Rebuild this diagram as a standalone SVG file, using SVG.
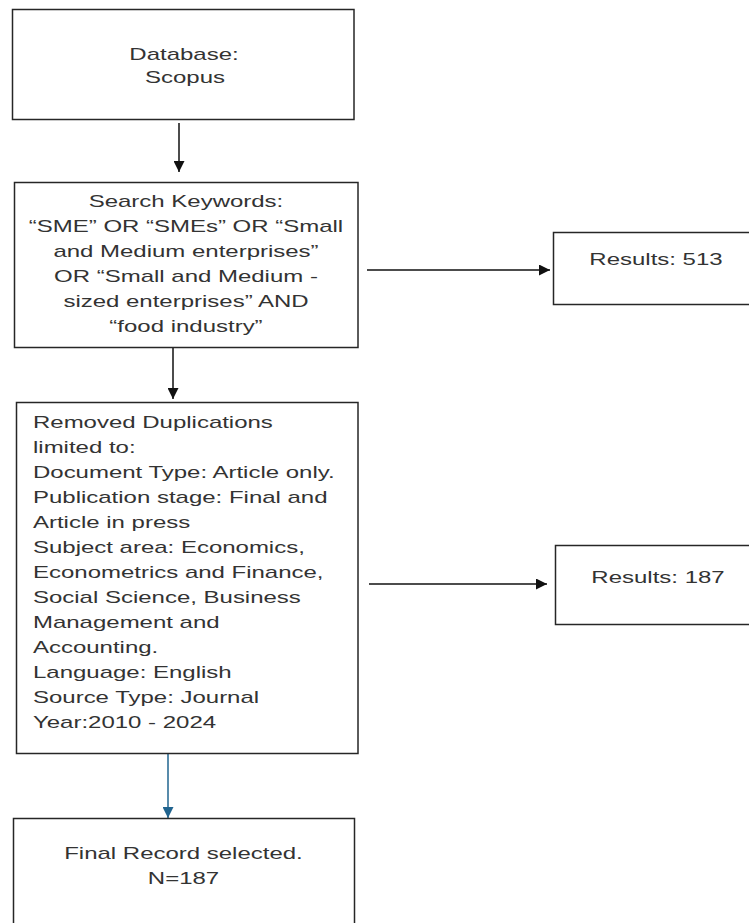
<svg xmlns="http://www.w3.org/2000/svg" width="749" height="923" viewBox="0 0 749 923">
<style>
.box { fill: #ffffff; stroke: #262626; stroke-width: 1.5; }
.t { font-family: "Liberation Sans", Arial, sans-serif; font-size: 16px; fill: #333333; }
.c { text-anchor: middle; }
.conn { stroke: #111111; stroke-width: 1.5; fill: none; }
.blue { stroke: #21648f; }
</style>
<defs>
<marker id="ah" markerUnits="userSpaceOnUse" markerWidth="11" markerHeight="11" viewBox="0 0 10 10" refX="10" refY="5" orient="auto">
<path d="M0,0 L10,5 L0,10 Z" fill="#111111"/>
</marker>
<marker id="ahb" markerUnits="userSpaceOnUse" markerWidth="11" markerHeight="11" viewBox="0 0 10 10" refX="10" refY="5" orient="auto">
<path d="M0,0 L10,5 L0,10 Z" fill="#21648f"/>
</marker>
</defs>
<rect width="749" height="923" fill="#ffffff"/>

<g id="connectors">
<line class="conn" x1="179" y1="123" x2="179" y2="172" marker-end="url(#ah)"/>
<line class="conn" x1="173" y1="348" x2="173" y2="399" marker-end="url(#ah)"/>
<line class="conn" x1="367" y1="270" x2="550" y2="270" marker-end="url(#ah)"/>
<line class="conn" x1="369" y1="584" x2="547" y2="584" marker-end="url(#ah)"/>
<line class="conn blue" x1="168" y1="754" x2="168" y2="818" marker-end="url(#ahb)"/>
</g>

<g id="node-database">
<rect class="box" x="12.5" y="9.5" width="341.5" height="110"/>
<text class="t c" transform="scale(1.5 1)" x="122.67" y="60">Database:</text>
<text class="t c" transform="scale(1.5 1)" x="123.33" y="83">Scopus</text>
</g>

<g id="node-search">
<rect class="box" x="14.5" y="182.5" width="343.5" height="165"/>
<text class="t c" transform="scale(1.5 1)" x="124" y="207">Search Keywords:</text>
<text class="t c" transform="scale(1.5 1)" x="124" y="232">“SME” OR “SMEs” OR “Small</text>
<text class="t c" transform="scale(1.5 1)" x="124" y="257">and Medium enterprises”</text>
<text class="t c" transform="scale(1.5 1)" x="124" y="282">OR “Small and Medium -</text>
<text class="t c" transform="scale(1.5 1)" x="124" y="307">sized enterprises” AND</text>
<text class="t c" transform="scale(1.5 1)" x="124" y="332">“food industry”</text>
</g>

<g id="node-results-513">
<rect class="box" x="553.5" y="232.5" width="210" height="72"/>
<text class="t c" transform="scale(1.5 1)" x="437.33" y="265">Results: 513</text>
</g>

<g id="node-filters">
<rect class="box" x="16.5" y="402.5" width="341.5" height="351"/>
<text class="t" transform="scale(1.5 1)" x="22" y="428">Removed Duplications</text>
<text class="t" transform="scale(1.5 1)" x="22" y="453">limited to:</text>
<text class="t" transform="scale(1.5 1)" x="22" y="478">Document Type: Article only.</text>
<text class="t" transform="scale(1.5 1)" x="22" y="503">Publication stage: Final and</text>
<text class="t" transform="scale(1.5 1)" x="22" y="528">Article in press</text>
<text class="t" transform="scale(1.5 1)" x="22" y="553">Subject area: Economics,</text>
<text class="t" transform="scale(1.5 1)" x="22" y="578">Econometrics and Finance,</text>
<text class="t" transform="scale(1.5 1)" x="22" y="603">Social Science, Business</text>
<text class="t" transform="scale(1.5 1)" x="22" y="628">Management and</text>
<text class="t" transform="scale(1.5 1)" x="22" y="653">Accounting.</text>
<text class="t" transform="scale(1.5 1)" x="22" y="678">Language: English</text>
<text class="t" transform="scale(1.5 1)" x="22" y="703">Source Type: Journal</text>
<text class="t" transform="scale(1.5 1)" x="22" y="728">Year:2010 - 2024</text>
</g>

<g id="node-results-187">
<rect class="box" x="555.5" y="545.5" width="210" height="79"/>
<text class="t c" transform="scale(1.5 1)" x="438.67" y="583">Results: 187</text>
</g>

<g id="node-final">
<rect class="box" x="13.5" y="818.5" width="341" height="120"/>
<text class="t c" transform="scale(1.5 1)" x="122.33" y="859">Final Record selected.</text>
<text class="t c" transform="scale(1.5 1)" x="122.33" y="884">N=187</text>
</g>
</svg>
